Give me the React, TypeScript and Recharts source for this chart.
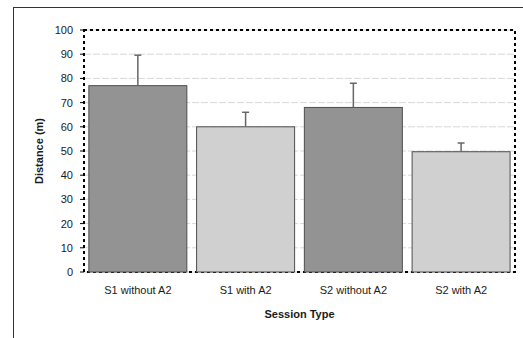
import { Bar, BarChart, CartesianGrid, Cell, ReferenceArea, XAxis, YAxis } from "recharts";

const categories = ["S1 without A2", "S1 with A2", "S2 without A2", "S2 with A2"];
const distances = [77, 60, 68, 49.7];
const upperErrors = [12.6, 6, 10, 3.6];
const barColors = ["#939393", "#d0d0d0", "#939393", "#d0d0d0"];
const yTicks = [0, 10, 20, 30, 40, 50, 60, 70, 80, 90, 100];

const data = categories.map((session, i) => ({
  session,
  distance: distances[i],
  err: upperErrors[i],
}));

const font = "'Liberation Sans', Arial, sans-serif";

// bar with an upward-only error whisker, scaled from the bar's own px/value ratio
function BarWithError(props: any) {
  const { x, y, width, height, fill, payload } = props;
  const pxPerUnit = height / payload.distance;
  const cx = x + width / 2;
  const top = y - payload.err * pxPerUnit;
  return (
    <g>
      <rect x={x} y={y} width={width} height={height} fill={fill} stroke="#4d4d4d" strokeWidth={1} />
      <line x1={cx} x2={cx} y1={y} y2={top} stroke="#666" strokeWidth={1.5} />
      <line x1={cx - 3.5} x2={cx + 3.5} y1={top} y2={top} stroke="#666" strokeWidth={1.5} />
    </g>
  );
}

export default function App() {
  return (
    <div style={{ position: "absolute", left: 0, top: 0, width: 523, height: 338, background: "#fff" }}>
      <div
        style={{
          position: "absolute",
          left: 13,
          top: 7,
          width: 510,
          height: 331,
          borderLeft: "1px solid #333",
          borderTop: "1px solid #333",
        }}
      />
      <BarChart
        width={523}
        height={338}
        data={data}
        margin={{ top: 30, right: 8, bottom: 0, left: 0 }}
        barCategoryGap="4.5%"
        style={{ position: "absolute", left: 0, top: 0, fontFamily: font }}
      >
        <CartesianGrid vertical={false} stroke="#d8d8d8" strokeDasharray="7 2" />
        <XAxis
          dataKey="session"
          height={66}
          axisLine={false}
          tickLine={false}
          tickSize={6}
          tickMargin={8}
          tick={{ fill: "#1a1a1a", stroke: "none", fontSize: 11 }}
          label={{
            value: "Session Type",
            position: "insideBottom",
            offset: 20,
            style: { fill: "#1a1a1a", fontSize: 11, fontWeight: "bold" },
          }}
        />
        <YAxis
          width={84}
          domain={[0, 100]}
          ticks={yTicks}
          axisLine={false}
          tickSize={4}
          tickMargin={7}
          tickLine={{ stroke: "#000" }}
          tick={{ fill: "#1a1a1a", stroke: "none", fontSize: 11 }}
          label={{
            value: "Distance (m)",
            angle: -90,
            position: "insideLeft",
            offset: 39,
            style: { textAnchor: "middle", fill: "#1a1a1a", fontSize: 11, fontWeight: "bold" },
          }}
        />
        <Bar dataKey="distance" shape={BarWithError} isAnimationActive={false}>
          {data.map((d, i) => (
            <Cell key={d.session} fill={barColors[i]} />
          ))}
        </Bar>
        <ReferenceArea
          y1={0}
          y2={100}
          fill="none"
          stroke="#000"
          strokeWidth={2}
          strokeDasharray="3 3"
        />
      </BarChart>
    </div>
  );
}
